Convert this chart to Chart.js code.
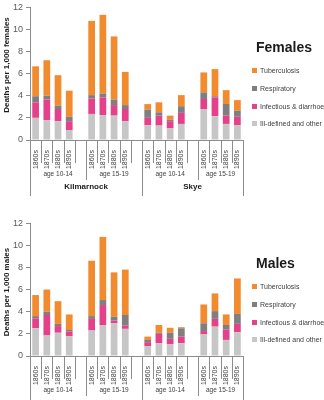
<!DOCTYPE html>
<html>
<head>
<meta charset="utf-8">
<script src="https://cdn.jsdelivr.net/npm/chart.js@4.4.0/dist/chart.umd.min.js"></script>
<style>
  html, body { margin: 0; padding: 0; background: #fff; overflow: hidden; }
  #page { position: relative; width: 324px; height: 400px; overflow: hidden; font-family: 'Liberation Sans', Arial, sans-serif; }
  .panel { position: absolute; left: 0; width: 324px; height: 216px; }
  .panel canvas { position: absolute; left: 0; top: 0; }
  .sex { position: absolute; left: 256px; top: 40px; font-size: 14px; line-height: 14px; font-weight: bold; color: #1a1a1a; }
  .item { position: absolute; left: 252px; height: 8px; display: flex; align-items: center; font-size: 7px; color: #404040; white-space: nowrap; }
  .item i { display: inline-block; width: 5px; height: 5px; margin-right: 3px; }
</style>
</head>
<body>
<div id="page">
  <div class="panel" id="pF" style="top:0px"><canvas id="cF" width="324" height="216"></canvas></div>
  <div class="panel" id="pM" style="top:216px"><canvas id="cM" width="324" height="216"></canvas></div>
</div>
<script>
// categorias: 4 decadas por grupo, con un hueco entre grupos
const labels = ['1860s','1870s','1880s','1890s','', '1860s','1870s','1880s','1890s','',
                '1860s','1870s','1880s','1890s','', '1860s','1870s','1880s','1890s'];
const ageGroups = [
  { text: 'age 10-14', from: 0, to: 4 }, { text: 'age 15-19', from: 5, to: 9 },
  { text: 'age 10-14', from: 10, to: 14 }, { text: 'age 15-19', from: 15, to: 18 }
];
const siteGroups = [
  { text: 'Kilmarnock', from: 0, to: 9 }, { text: 'Skye', from: 10, to: 18 }
];

const causes = ['Ill-defined and other', 'Infectious & diarrhoea', 'Respiratory', 'Tuberculosis'];
const colores = ['#c6c6c6', '#e5418b', '#7f7f7f', '#f28a2e'];

// Mujeres (muertes por 1.000)
const illF  = [2.0, 1.8, 1.7, 0.9, null, 2.35, 2.25, 2.2, 1.7, null, 1.33, 1.3, 1.05, 1.45, null, 2.8, 2.15, 1.45, 1.35];
const infF  = [1.4, 1.85, 1.1, 0.8, null, 1.4, 1.6, 0.95, 1.1, null, 0.67, 0.9, 0.65, 1.0, null, 0.9, 1.7, 0.75, 0.75];
const respF = [0.55, 0.35, 0.3, 0.4, null, 0.3, 0.35, 0.5, 0.35, null, 0.74, 0.3, 0.15, 0.6, null, 0.6, 0.1, 1.05, 0.55];
const tbF   = [2.7, 3.2, 2.75, 2.35, null, 6.7, 7.1, 5.7, 3.0, null, 0.5, 0.9, 0.35, 1.0, null, 1.8, 2.45, 1.25, 0.95];

// Hombres
const illM  = [2.5, 1.85, 2.1, 1.8, null, 2.3, 2.8, 2.95, 2.45, null, 0.9, 1.15, 1.05, 1.15, null, 1.95, 2.65, 1.45, 2.15];
const infM  = [0.9, 1.85, 0.6, 0.4, null, 1.05, 1.8, 0.25, 0.3, null, 0.35, 0.85, 0.5, 0.6, null, 0.3, 0.7, 0.95, 0.75];
const respM = [0.2, 0.3, 0.2, 0.15, null, 0.25, 0.45, 0.35, 0.95, null, 0.2, 0.1, 0.55, 0.75, null, 0.7, 0.7, 0.4, 0.9];
const tbM   = [1.9, 2.0, 2.05, 1.4, null, 5.0, 5.7, 4.0, 4.1, null, 0.3, 0.7, 0.45, 0.1, null, 1.7, 1.6, 0.95, 3.2];

const yTicks = [0, 2, 4, 6, 8, 10, 12];
const fuente = "'Liberation Sans', Arial, sans-serif";
const gris = '#8c8c8c';

// Eje de categorias en varios niveles + titulo del eje y
const ejeMultinivel = {
  id: 'ejeMultinivel',
  afterDraw(chart, args, opts) {
    const ctx = chart.ctx;
    const x = chart.scales.x;
    const y0 = chart.chartArea.bottom;
    const paso = x.getPixelForValue(1) - x.getPixelForValue(0);
    const borde = i => x.getPixelForValue(i) - paso / 2;
    const linea = (px, largo) => {
      const xx = Math.round(px) + 0.5;
      ctx.beginPath(); ctx.moveTo(xx, y0); ctx.lineTo(xx, y0 + largo); ctx.stroke();
    };
    ctx.save();
    ctx.strokeStyle = gris;
    ctx.lineWidth = 1;
    for (let i = 0; i <= labels.length; i++) linea(borde(i), 23);
    ctx.fillStyle = '#404040';
    ctx.textAlign = 'center';
    ctx.textBaseline = 'middle';
    ctx.font = '6.5px ' + fuente;
    ageGroups.forEach(g => {
      linea(borde(g.from), 40);
      linea(borde(g.to + 1), 40);
      ctx.fillText(g.text, (borde(g.from) + borde(g.to + 1)) / 2, y0 + 34);
    });
    ctx.fillStyle = '#1a1a1a';
    ctx.font = 'bold 8px ' + fuente;
    siteGroups.forEach(g => {
      linea(borde(g.from), 56);
      linea(borde(g.to + 1), 56);
      ctx.fillText(g.text, (borde(g.from) + borde(g.to + 1)) / 2, y0 + 47);
    });
    // titulo del eje y
    ctx.translate(6.5, opts.tituloY);
    ctx.rotate(-Math.PI / 2);
    ctx.fillText(opts.titulo, 0, 0);
    ctx.restore();
  }
};

function crearPanel(canvasId, panelId, series, sexo, tituloY, tituloCentro) {
  const panel = document.getElementById(panelId);
  const t = document.createElement('div');
  t.className = 'sex';
  t.textContent = sexo;
  panel.appendChild(t);
  const posLeyenda = [70.5, 88, 106, 123.5];
  for (let k = causes.length - 1; k >= 0; k--) {
    const it = document.createElement('div');
    it.className = 'item';
    it.style.top = (posLeyenda[causes.length - 1 - k] - 4) + 'px';
    it.innerHTML = '<i style="background:' + colores[k] + '"></i>' + causes[k];
    panel.appendChild(it);
  }

  const ctx = document.getElementById(canvasId).getContext('2d');
  return new Chart(ctx, {
    type: 'bar',
    data: {
      labels: labels,
      datasets: series.map((d, k) => ({
        label: causes[k],
        data: d,
        backgroundColor: colores[k],
        borderWidth: 0,
        barPercentage: 0.6,
        categoryPercentage: 1
      }))
    },
    options: {
      responsive: false,
      animation: false,
      devicePixelRatio: 1,
      layout: { padding: { left: 0, right: 81, top: 0, bottom: 0 } },
      plugins: {
        legend: { display: false },
        tooltip: { enabled: false },
        ejeMultinivel: { titulo: tituloY, tituloY: tituloCentro }
      },
      scales: {
        x: {
          stacked: true,
          grid: { display: false },
          border: { display: true, color: gris },
          ticks: {
            autoSkip: false, minRotation: 90, maxRotation: 90, padding: 2,
            font: { family: fuente, size: 7 }, color: '#404040'
          },
          afterFit: s => { s.height = 76; }
        },
        y: {
          stacked: true,
          min: 0,
          max: 12,
          afterBuildTicks: s => { s.ticks = yTicks.map(v => ({ value: v })); },
          ticks: { padding: 3, font: { family: fuente, size: 9, lineHeight: 0.9 }, color: '#595959' },
          grid: { drawOnChartArea: false, tickLength: 4, color: gris },
          border: { display: true, color: gris },
          afterFit: s => { s.width = 30; }
        }
      }
    },
    plugins: [ejeMultinivel]
  });
}

crearPanel('cF', 'pF', [illF, infF, respF, tbF], 'Females', 'Deaths per 1,000 females', 65);
crearPanel('cM', 'pM', [illM, infM, respM, tbM], 'Males', 'Deaths per 1,000 males', 76);
</script>
</body>
</html>
